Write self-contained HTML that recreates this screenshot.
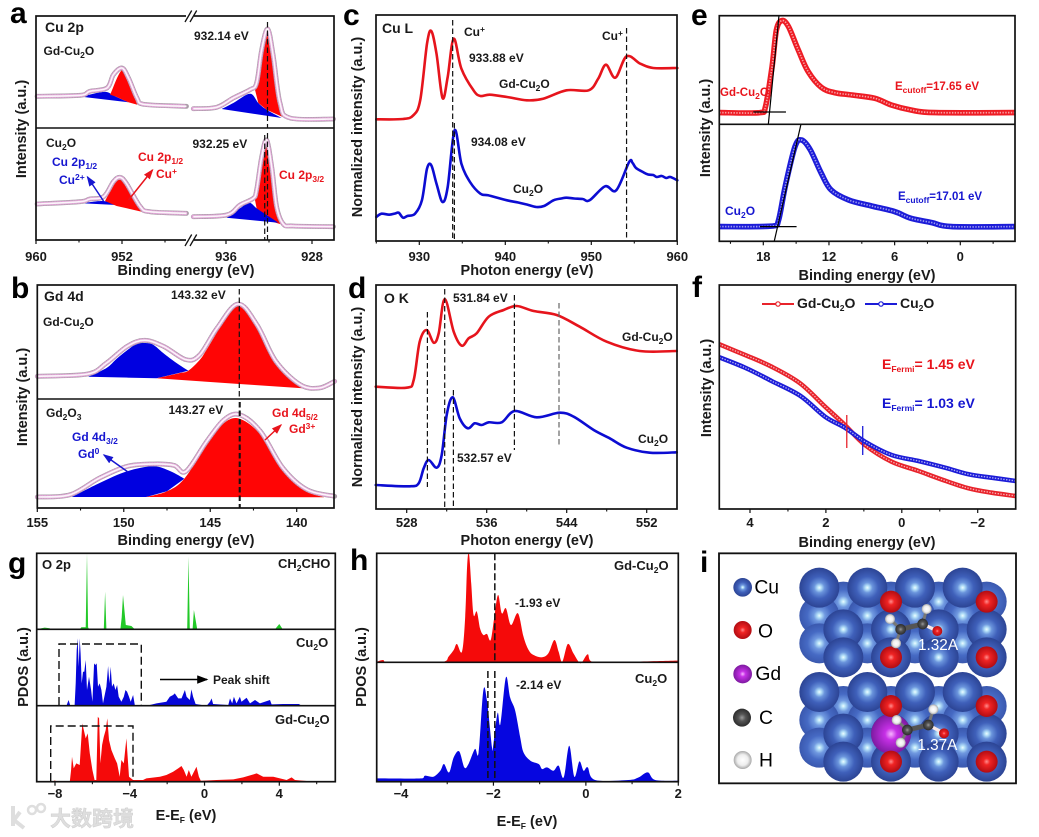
<!DOCTYPE html>
<html lang="en">
<head>
<meta charset="utf-8">
<title>XPS, XAS, UPS and PDOS figure</title>
<style>
html,body{margin:0;padding:0;background:#fff}
svg{display:block;filter:blur(.35px)}
text{font-family:"Liberation Sans","Noto Sans CJK SC",sans-serif;font-weight:bold;fill:#1a1a1a;font-size:12px}
.t{font-size:14.5px}
.h{font-size:14px}
.l{font-size:30px;fill:#000}
.r{fill:#e8141c}
.u{fill:#1616d0}
.s{font-size:8.5px}
.k{font-size:13px}
.e{font-size:11.5px}
.tick{font-size:13px}
.atom{font-weight:normal;font-size:58px;fill:#000}
.w{font-weight:normal;font-size:46px;fill:#fff}
.wm{font-size:21px;fill:#dedede;stroke:#cfcfcf;stroke-width:.5}
</style>
</head>
<body>
<svg id="figure" xmlns="http://www.w3.org/2000/svg" width="1039" height="837" viewBox="0 0 1039 837">
<defs>
<radialGradient id="cuF"><stop offset="0" stop-color="#eefcff"/><stop offset=".1" stop-color="#b4e0f8"/><stop offset=".26" stop-color="#6a94dc"/><stop offset=".55" stop-color="#3f60ba"/><stop offset="1" stop-color="#2c4494"/></radialGradient>
<radialGradient id="cuB"><stop offset="0" stop-color="#eefcff"/><stop offset=".1" stop-color="#b4e0f8"/><stop offset=".28" stop-color="#7099e0"/><stop offset=".6" stop-color="#466ac4"/><stop offset="1" stop-color="#3a58ae"/></radialGradient>
<radialGradient id="oG"><stop offset="0" stop-color="#ff8d8d"/><stop offset=".3" stop-color="#f02424"/><stop offset="1" stop-color="#b20c12"/></radialGradient>
<radialGradient id="gdG"><stop offset="0" stop-color="#f7b5ff"/><stop offset=".3" stop-color="#c630e6"/><stop offset="1" stop-color="#7d1aa0"/></radialGradient>
<radialGradient id="cG"><stop offset="0" stop-color="#9a9a9a"/><stop offset=".4" stop-color="#555"/><stop offset="1" stop-color="#2c2c2c"/></radialGradient>
<radialGradient id="hG"><stop offset="0" stop-color="#fff"/><stop offset=".6" stop-color="#eee"/><stop offset="1" stop-color="#a8a8a8"/></radialGradient>
<marker id="arK" markerWidth="8" markerHeight="8" refX="7" refY="3" orient="auto"><path d="M0 0L8 3L0 6z" fill="#000"/></marker>
<marker id="arR" markerWidth="7" markerHeight="7" refX="6" refY="2.5" orient="auto"><path d="M0 0L7 2.5L0 5z" fill="#e8141c"/></marker>
<marker id="arB" markerWidth="7" markerHeight="7" refX="6" refY="2.5" orient="auto"><path d="M0 0L7 2.5L0 5z" fill="#1616d0"/></marker>
</defs>

<g id="marks"></g>

<!-- panel letters -->
<text class="l" x="10" y="23">a</text>
<text class="l" x="11" y="298">b</text>
<text class="l" x="343" y="25">c</text>
<text class="l" x="348" y="298">d</text>
<text class="l" x="691" y="25">e</text>
<text class="l" x="692" y="297">f</text>
<text class="l" x="8" y="573">g</text>
<text class="l" x="350" y="570">h</text>
<text class="l" x="700" y="572">i</text>

<!-- axis titles -->
<text class="t" x="186" y="275" text-anchor="middle">Binding energy (eV)</text>
<text class="t" x="186" y="545" text-anchor="middle">Binding energy (eV)</text>
<text class="t" x="527" y="275" text-anchor="middle">Photon energy (eV)</text>
<text class="t" x="527" y="545" text-anchor="middle">Photon energy (eV)</text>
<text class="t" x="867" y="280" text-anchor="middle">Binding energy (eV)</text>
<text class="t" x="867" y="547" text-anchor="middle">Binding energy (eV)</text>
<text class="t" x="186" y="820" text-anchor="middle">E-E<tspan class="s" dy="3">F</tspan><tspan dy="-3"> (eV)</tspan></text>
<text class="t" x="527" y="826" text-anchor="middle">E-E<tspan class="s" dy="3">F</tspan><tspan dy="-3"> (eV)</tspan></text>
<text class="t" transform="translate(26 129) rotate(-90)" text-anchor="middle">Intensity (a.u.)</text>
<text class="t" transform="translate(27 397) rotate(-90)" text-anchor="middle">Intensity (a.u.)</text>
<text class="t" transform="translate(362 127) rotate(-90)" text-anchor="middle">Normalized intensity (a.u.)</text>
<text class="t" transform="translate(362 397) rotate(-90)" text-anchor="middle">Normalized intensity (a.u.)</text>
<text class="t" transform="translate(710 128) rotate(-90)" text-anchor="middle">Intensity (a.u.)</text>
<text class="t" transform="translate(711 388) rotate(-90)" text-anchor="middle">Intensity (a.u.)</text>
<text class="t" transform="translate(28 667) rotate(-90)" text-anchor="middle">PDOS (a.u.)</text>
<text class="t" transform="translate(366 667) rotate(-90)" text-anchor="middle">PDOS (a.u.)</text>

<!-- panel a annotations -->
<text class="h" x="45" y="32">Cu 2p</text>
<text x="43.5" y="55">Gd-Cu<tspan class="s" dy="3">2</tspan><tspan dy="-3">O</tspan></text>
<text x="194" y="40">932.14 eV</text>
<text x="46" y="147">Cu<tspan class="s" dy="3">2</tspan><tspan dy="-3">O</tspan></text>
<text x="192.5" y="148">932.25 eV</text>
<text class="u" x="52" y="166">Cu 2p<tspan class="s u" dy="3">1/2</tspan></text>
<text class="u" x="59" y="184">Cu<tspan class="s u" dy="-4">2+</tspan></text>
<text class="r" x="138" y="161">Cu 2p<tspan class="s r" dy="3">1/2</tspan></text>
<text class="r" x="156" y="178">Cu<tspan class="s r" dy="-4">+</tspan></text>
<text class="r" x="279" y="179">Cu 2p<tspan class="s r" dy="3">3/2</tspan></text>

<!-- panel b annotations -->
<text class="h" x="44" y="301">Gd 4d</text>
<text x="43" y="326">Gd-Cu<tspan class="s" dy="3">2</tspan><tspan dy="-3">O</tspan></text>
<text x="171" y="299">143.32 eV</text>
<text x="46" y="417">Gd<tspan class="s" dy="3">2</tspan><tspan dy="-3">O</tspan><tspan class="s" dy="3">3</tspan></text>
<text x="168.5" y="414">143.27 eV</text>
<text class="r" x="272" y="417">Gd 4d<tspan class="s r" dy="3">5/2</tspan></text>
<text class="r" x="289" y="433">Gd<tspan class="s r" dy="-4">3+</tspan></text>
<text class="u" x="72" y="441">Gd 4d<tspan class="s u" dy="3">3/2</tspan></text>
<text class="u" x="78" y="458">Gd<tspan class="s u" dy="-4">0</tspan></text>

<!-- panel c annotations -->
<text class="h" x="382" y="33">Cu L</text>
<text x="464" y="36">Cu<tspan class="s" dy="-4">+</tspan></text>
<text x="469" y="62">933.88 eV</text>
<text x="499" y="88">Gd-Cu<tspan class="s" dy="3">2</tspan><tspan dy="-3">O</tspan></text>
<text x="602" y="40">Cu<tspan class="s" dy="-4">+</tspan></text>
<text x="471" y="146">934.08 eV</text>
<text x="513" y="193">Cu<tspan class="s" dy="3">2</tspan><tspan dy="-3">O</tspan></text>

<!-- panel d annotations -->
<text class="h" x="384" y="303">O K</text>
<text x="453" y="302">531.84 eV</text>
<text x="622" y="341">Gd-Cu<tspan class="s" dy="3">2</tspan><tspan dy="-3">O</tspan></text>
<text x="638" y="443">Cu<tspan class="s" dy="3">2</tspan><tspan dy="-3">O</tspan></text>
<text x="457" y="462">532.57 eV</text>

<!-- panel e annotations -->
<text class="r e" x="720" y="96">Gd-Cu<tspan class="s r" dy="3">2</tspan><tspan dy="-3">O</tspan></text>
<text class="r e" x="895" y="90">E<tspan class="s r" dy="3">cutoff</tspan><tspan dy="-3">=17.65 eV</tspan></text>
<text class="u" x="725" y="215">Cu<tspan class="s u" dy="3">2</tspan><tspan dy="-3">O</tspan></text>
<text class="u e" x="898" y="200">E<tspan class="s u" dy="3">cutoff</tspan><tspan dy="-3">=17.01 eV</tspan></text>

<!-- panel f annotations -->
<text class="h" x="797" y="308">Gd-Cu<tspan class="s" dy="3">2</tspan><tspan dy="-3">O</tspan></text>
<text class="h" x="900" y="308">Cu<tspan class="s" dy="3">2</tspan><tspan dy="-3">O</tspan></text>
<text class="h r" x="882" y="369">E<tspan class="s r" dy="3">Fermi</tspan><tspan dy="-3">= 1.45 eV</tspan></text>
<text class="h u" x="882" y="408">E<tspan class="s u" dy="3">Fermi</tspan><tspan dy="-3">= 1.03 eV</tspan></text>

<!-- panel g annotations -->
<text class="k" x="42" y="569">O 2p</text>
<text class="k" x="278" y="568">CH<tspan class="s" dy="3">2</tspan><tspan dy="-3">CHO</tspan></text>
<text class="k" x="296" y="647">Cu<tspan class="s" dy="3">2</tspan><tspan dy="-3">O</tspan></text>
<text x="213" y="684">Peak shift</text>
<text class="k" x="275" y="724">Gd-Cu<tspan class="s" dy="3">2</tspan><tspan dy="-3">O</tspan></text>

<!-- panel h annotations -->
<text class="k" x="614" y="570">Gd-Cu<tspan class="s" dy="3">2</tspan><tspan dy="-3">O</tspan></text>
<text x="515" y="607">-1.93 eV</text>
<text class="k" x="635" y="683">Cu<tspan class="s" dy="3">2</tspan><tspan dy="-3">O</tspan></text>
<text x="516" y="689">-2.14 eV</text>

<!-- panel i -->
<g id="panelI" transform="translate(690 550) scale(.33333)">
<rect x="87" y="10" width="891" height="690" fill="#fff" stroke="#111" stroke-width="5.5"/>
<g id="atoms"></g>
<text class="atom" x="193" y="130">Cu</text>
<text class="atom" x="204" y="262">O</text>
<text class="atom" x="196" y="390">Gd</text>
<text class="atom" x="207" y="522">C</text>
<text class="atom" x="207" y="650">H</text>
<text class="w" x="684" y="300">1.32A</text>
<text class="w" x="682" y="600">1.37A</text>
</g>

<!-- watermark -->
<g>
<path d="M13 806 L13 826 M20 812 L14 820 L24 828" fill="none" stroke="#dedede" stroke-width="4"/>
<circle cx="32" cy="810" r="4" fill="none" stroke="#dedede" stroke-width="2.5"/>
<circle cx="41" cy="808" r="4" fill="none" stroke="#dedede" stroke-width="2.5"/>
<text class="wm" x="50" y="826">大数跨境</text>
</g>
</svg>

<script>
// ---------- panel a data (eV, intensity) ----------
const aTopLeftE=[959.9,955.9,955,953.4,952.8,952,951.4,950.6,950,946];
const aTopLeftI=[31.7,32.7,36.7,40,53.3,60,50,30,23.7,21.7];
const aTopLeftBlueE=[955.75,954.36,953.43,952.65,951.41];
const aTopLeftBlueI=[31.3,35,36,31.7,25.7];
const aTopLeftRedE=[953.1,952.03,951.41,950.57,951.41,952.65];
const aTopLeftRedI=[33.3,57.7,45,23.3,25.7,31.7];
const aTopRightE=[939.04,936.87,935.32,933.77,933.15,932.68,932.12,931.6,930.98,930.05,926];
const aTopRightI=[19.3,20.7,30,38.3,45,78.3,99,71.7,25,10,9];
const aTopRightBlueE=[936.4,935.32,933.77,933,932.22,930.82];
const aTopRightBlueI=[19,25,34.3,25,18.3,10];
const aTopRightRedE=[933.3,932.68,932.12,931.6,931.13,930.51,932.22,933];
const aTopRightRedI=[38.3,78.3,95,71.7,25,10,18.3,25];
const aBotLeftE=[959.9,955.9,955,953.7,952.8,952.2,951.6,950.3,949.4,946];
const aBotLeftI=[36,38.3,41,43.3,58.3,62.7,56.7,33.3,28.3,26.7];
const aBotLeftBlueE=[955.75,953.74,952.5];
const aBotLeftBlueI=[36.7,39,35];
const aBotLeftRedE=[953.58,952.34,951.41,950.17,952.5];
const aBotLeftRedI=[39,60,50,28.3,34];
const aBotRightE=[939.04,935.94,934.7,933.46,933.15,932.68,932.22,931.75,931.29,930.67,929.74,926];
const aBotRightI=[23.3,25,35,41.7,50,83.3,100,73.3,33.3,16,14,13.3];
const aBotRightBlueE=[935.94,934.7,933.83,933.15,932.22,931.13];
const aBotRightBlueI=[22.3,31.7,37.3,31.7,25,17.3];
const aBotRightRedE=[933.3,932.68,932.22,931.75,931.29,930.67,932.22,933.15];
const aBotRightRedI=[40,83.3,96,70,33.3,15,20,31.7];
const aMajorTicks=[960,952,936,928];
const aMinorTicks=[956,948,932];
const aTickLabels=["960","952","936","928"];

// ---------- panel b data ----------
const bTopE=[155,152.1,151,149.8,148.8,147.7,146.4,145.6,144.6,143.4,142.3,141.2,139.8,138.7,137.8];
const bTopI=[22.7,25,36,52.7,58.7,52.7,39.3,44.3,71,95,74.3,37.7,14.3,11,17.7];
const bTopBlueE=[152.05,151,150.41,149.84,149.26,148.78,148.3,147.72,146.95,146.27,148.1];
const bTopBlueI=[22.3,31,40.3,48.3,55,56,54.3,46,36,28.3,20.7];
const bTopRedE=[148.1,146.75,146.27,145.6,145.21,144.63,143.96,143.32,142.8,142.32,141.74,141.17,140.2,139.24,143.32];
const bTopRedI=[20.7,26,28.3,39.3,49.3,66,86,92.7,84.3,72.7,54.3,37.7,19.3,10.3,15];
const bBotE=[155,153.1,151.4,149.8,148.3,147.1,146.4,145.2,144.2,143.3,142.1,140.8,139.4,137.8];
const bBotI=[11,13.3,30,41.7,44,42.7,36.7,66.7,88.3,93.3,76.7,40,18.3,11.7];
const bBotBlueE=[153,151.4,149.8,148.3,147.3,146.5,147.5,148.7];
const bBotBlueI=[11,25,36.7,41.7,36.7,29.3,16.7,11];
const bBotRedE=[148.7,147.5,146.5,145.2,144.2,143.3,142.1,140.8,139.4,138.4];
const bBotRedI=[11,16.7,29.3,63.3,85,89.3,73.3,36.7,16.7,10.7];
const bMajorTicks=[155,150,145,140];
const bMinorTicks=[152.5,147.5,142.5];
const bTickLabels=["155","150","145","140"];

// ---------- panel c data ----------
const cRedE=[925,928.1,929.3,930.1,930.9,931.4,932,932.7,933.3,934,934.9,936.3,937.1,938.2,940.2,942.5,944.4,947.1,949.7,950.8,951.7,952.8,954.1,955.7,957.2,960];
const cRedI=[121.7,122,125.7,140.7,197.3,210,187.3,143,164,202.3,172.3,150.7,145,146.3,144,140.7,142.3,150.7,150.7,162.3,176.3,163.3,184.7,177.3,173,173];
const cBlueE=[925,925.6,926.5,927.2,927.6,928.1,928.6,929.5,930.3,930.9,931.4,932,932.7,933.3,934.1,934.9,935.9,937.1,938,940.2,941.5,942.5,943.6,944.5,945.6,946.5,947.1,948,949,949.8,951.6,952.9,954.4,954.8,955.2,956,956.6,957.2,957.6,958.2,958.7,959.2,960];
const cBlueI=[24,27.3,26.3,27.5,28.3,23.3,25,27.3,40.7,72.3,75.7,57.3,39,54,110.7,77.3,59,47.3,45.7,40.7,38.5,36.5,34,35,40.7,42.5,43.3,42.5,42,40.7,54.7,50.7,79,78,73,69,66.5,66,64,65,63,64,60.7];
const cMajorTicks=[930,940,950,960];
const cMinorTicks=[925,935,945,955];
const cTickLabels=["930","940","950","960"];

// ---------- panel d data ----------
const dRedE=[524.9,528,528.7,529.3,530,530.7,531.2,531.8,532.7,533.5,534.2,535,536.2,537.7,539,540.7,543,545.3,548,551.3,555];
const dRedI=[122.3,121.3,129,167.3,179,166.3,175.7,210,177.3,163.3,170.7,175.7,192.3,199,203,198,194,182.3,167.3,158,158];
const dBlueE=[524.9,528.3,529.2,529.7,530.2,531,531.5,532,532.6,533.3,534.1,534.8,535.5,536.2,537.5,538.8,541,543.3,544.7,546.7,548.3,550,552.3,555];
const dBlueI=[24,22.7,25.7,40.7,49,41.3,54,94,111.7,90.7,80.7,85.7,84,86.7,86.7,98,91.7,96.3,92.3,79,70.7,61.3,56.3,56.7];
const dMajorTicks=[528,536,544,552];
const dMinorTicks=[532,540,548];
const dTickLabels=["528","536","544","552"];

// ---------- panel e data ----------
const eRedE=[22,18.3,17.8,17.2,16.8,16.3,15.7,14.8,13.9,12.7,11.5,9.9,7.8,6.3,4.5,2.3,-5];
const eRedI=[11.7,11.7,17.7,57.7,94.3,103.7,97.7,74.3,52.7,37,31.7,29.3,26,19.3,14.3,11.7,11.7];
const eBlueE=[22,17.1,16.6,16,15.1,14.5,13.7,12.7,11.8,10.2,8.1,6,4.5,2.6,0.8,-5];
const eBlueI=[14.7,15.3,21.3,54.7,94.7,101.3,91.3,68,51.3,41.3,35.3,29.7,23,18.7,14.7,14.7];
const eMajorTicks=[18,12,6,0];
const eMinorTicks=[21,15,9,3,-3];
const eTickLabels=["18","12","6","0"];

// ---------- panel f data ----------
const fEnergy=[4.81,4.13,3.43,2.68,2.02,1.5,0.97,0.27,-0.44,-1.14,-1.76,-2.37,-3];
const fRedI=[164.7,154,142.3,125.7,102.3,84,64,47.3,38,28.3,20.7,16.3,13];
const fBlueI=[151.7,141.3,128,113.3,92.3,81.3,67.3,54,48,41.3,34.7,31.3,28];
const fFermi=[1.45,1.03];
const fMajorTicks=[4,2,0,-2];
const fMinorTicks=[3,1,-1];
const fTickLabels=["4","2","0","\u22122"];

// ---------- panel g data ----------
const gGreenE=[-9,-8.55,-8.29,-8.2,-6.68,-6.59,-6.36,-6.29,-6.23,-6.18,-5.39,-5.32,-5.25,-4.5,-4.43,-4.36,-4.21,-3.91,-3.73,-0.93,-0.86,-0.79,-0.64,-0.57,-0.46,-0.39,3.77,4,4.18,7];
const gGreenD=[0,1.7,1,0,0,2,2,76,2,0,0,37.7,0,0,12,34.3,4.3,3.3,0,0,72.7,0,0,19.3,7.7,0,0,5.3,0,0];
const gBlueE=[-7.39,-7.27,-7.18,-6.95,-6.89,-6.84,-6.79,-6.73,-6.68,-6.63,-6.57,-6.5,-6.43,-6.36,-6.29,-6.18,-6.07,-6,-5.91,-5.84,-5.77,-5.7,-5.61,-5.52,-5.43,-5.25,-5.16,-5.09,-5.02,-4.95,-4.86,-4.77,-4.68,-4.59,-4.45,-4.32,-4.23,-4.14,-4.04,-3.95,-3.82,-3.73,-2.93,-2.57,-2.04,-1.86,-1.68,-1.59,-1.41,-1.23,-1.05,-0.96,-0.79,-0.7,-0.61,-0.48,0.11,0.29,0.38,0.46,1.27,1.36,1.48,1.57,1.71,1.89,1.98,2.25,2.43,2.7,2.96,3.5,3.59,4.21,4.93,5.05,5.2,7];
const gBlueD=[0,5.7,0,0,22.3,55.7,67.3,39,67.3,52.3,22.3,34,34,45.7,15.7,29,15.7,4,42.3,40.7,42.3,19,22.3,15.7,2.3,19,39.7,22.3,39,19,22.3,15.7,20.7,9,4,9,15.7,14,9,4,10.7,0.7,0.7,2.3,4,9,10.7,12.3,7.3,7.3,15.7,9,5.7,16.3,9,1.7,0,4,7.3,1.7,0.7,7.3,2.3,9,2.3,9,4,8,2.3,5.7,2.3,5.7,1.3,1.7,1.7,1.7,0,0];
const gRedE=[-8.02,-7.93,-7.21,-7.14,-7.09,-7,-6.86,-6.68,-6.54,-6.46,-6.36,-6.25,-6.14,-6,-5.88,-5.79,-5.71,-5.64,-5.57,-5.48,-5.39,-5.29,-5.2,-5.11,-4.98,-4.8,-4.68,-4.54,-4.45,-4.32,-4.18,-4.04,-3.82,-3.29,-3.11,-2.39,-2.04,-1.68,-1.41,-1.23,-1.11,-0.96,-0.84,-0.7,-0.43,-0.3,-0.2,0.64,1.54,2.07,2.79,3.14,3.68,4.39,4.66,4.84,5.46,7];
const gRedD=[1.7,0,0,11.7,25,13.3,18.3,16.7,58.3,51.7,43.3,48.3,28.3,11.7,1.7,1.7,65,63.3,18.3,36.7,45,51.7,63.3,41.7,31.7,23.3,18.3,5,21.7,18.3,43.3,5,1.7,1.7,3.3,5,6.7,10,13.3,15.7,11.7,5,11.7,5,15,5,1,1.7,2.3,4.3,8.3,5,5,1.7,4.3,1.7,0.7,0];
const gMajorTicks=[-8,-4,0,4];
const gMinorTicks=[-6,-2,2,6];
const gTickLabels=["\u22128","\u22124","0","4"];

// ---------- panel h data ----------
const hRedE=[-4.52,-4.39,-4.34,-3.08,-2.97,-2.86,-2.79,-2.68,-2.61,-2.57,-2.53,-2.48,-2.43,-2.36,-2.29,-2.22,-2.14,-2.06,-1.98,-1.9,-1.82,-1.73,-1.62,-1.47,-1.35,-1.24,-1.13,-0.95,-0.81,-0.68,-0.59,-0.51,-0.39,-0.27,-0.16,-0.09,0.04,0.13,2];
const hRedD=[0.7,2.3,0.7,0.7,5.7,12.3,18.3,10.7,45.7,95.7,109,79,47.3,50.7,34,27.3,28.3,22.3,45.7,67.3,49,54,37.3,49,25.7,12.3,7.3,5,9,22.3,10.7,0.7,18.3,9,0.7,-0.3,8,0.7,1.7];
const hBlueE=[-4.52,-3.55,-3.48,-3.3,-3.15,-3.07,-2.96,-2.86,-2.74,-2.63,-2.54,-2.4,-2.32,-2.22,-2.14,-2.03,-2,-1.91,-1.85,-1.73,-1.64,-1.53,-1.42,-1.35,-1.2,-1.02,-0.95,-0.84,-0.7,-0.59,-0.48,-0.36,-0.25,-0.14,-0.05,0.04,0.2,0.92,1.14,1.34,1.5,2];
const hBlueD=[3.3,3.3,6,5,11,17.7,9.3,24.3,30.3,14.3,17.7,32.7,29.3,91,81,34.3,37.7,68.7,57.7,104.3,84.3,71,44.3,29.3,21,17.7,12.7,14.3,11,16,4.3,36,5,20.3,11,14.3,1.7,1.7,4.3,9.3,1.7,1];
const hMajorTicks=[-4,-2,0,2];
const hMinorTicks=[-3,-1,1];
const hTickLabels=["\u22124","\u22122","0","2"];

// ---------- panel i model ----------
const cuBackRowY=[155];
const cuMidRowsY=[197,280];
const cuFrontEvenY=[113];
const cuFrontOddY=[238,322];
const colsEven=[388,532,675,818];
const colsOdd=[460,603,746,890];

// ---------- helpers ----------
const NS='http://www.w3.org/2000/svg';
const root=document.getElementById('marks');
const RED='#ff0505',BLUE='#0000e0',LRED='#e6141c',LBLUE='#0c0cd2';

function linear(d0,d1,r0,r1){return function(v){return r0+(v-d0)*(r1-r0)/(d1-d0);};}
function svgEl(tag,attrs,parent){
  var e=document.createElementNS(NS,tag);
  for(var k in attrs){e.setAttribute(k,attrs[k]);}
  (parent||root).appendChild(e);
  return e;
}
function toPts(xs,ys,sx,sy){return xs.map(function(x,i){return [sx(x),sy(ys[i])];});}
function linePath(p){return p.map(function(q,i){return (i?'L':'M')+q[0].toFixed(1)+' '+q[1].toFixed(1);}).join('');}
function smoothPath(p){
  var d='M'+p[0][0].toFixed(1)+' '+p[0][1].toFixed(1);
  for(var i=0;i<p.length-1;i++){
    var a=p[Math.max(i-1,0)],b=p[i],c=p[i+1],e=p[Math.min(i+2,p.length-1)];
    var c1x=b[0]+(c[0]-a[0])/6,c1y=b[1]+(c[1]-a[1])/6,c2x=c[0]-(e[0]-b[0])/6,c2y=c[1]-(e[1]-b[1])/6;
    if(c1x>c[0])c1x=c[0]; if(c2x<b[0])c2x=b[0];
    d+='C'+c1x.toFixed(1)+' '+c1y.toFixed(1)+' '+c2x.toFixed(1)+' '+c2y.toFixed(1)+' '+c[0].toFixed(1)+' '+c[1].toFixed(1);
  }
  return d;
}
function fillShape(name,xs,ys,sx,sy,color,closeBase){
  var p=toPts(xs,ys,sx,sy);
  var d;
  if(closeBase){
    d=linePath(p)+'L'+p[p.length-1][0].toFixed(1)+' '+sy(0).toFixed(1)+'L'+p[0][0].toFixed(1)+' '+sy(0).toFixed(1);
  }else{
    // smooth the left-to-right upper edge, then return along straight baseline segments
    var n=1;
    while(n<p.length&&p[n][0]>p[n-1][0]){n++;}
    d=smoothPath(p.slice(0,n));
    p.slice(n).forEach(function(q){d+='L'+q[0].toFixed(1)+' '+q[1].toFixed(1);});
  }
  var s=svgEl('path',{d:d+'Z',fill:color,stroke:'none'});
  
  
}
function fitCurve(name,xs,ys,sx,sy){
  var d=smoothPath(toPts(xs,ys,sx,sy));
  var a=svgEl('path',{d:d,fill:'none',stroke:'#aa9ca8','stroke-width':4.8,'stroke-linecap':'round'});
  
  
  var b=svgEl('path',{d:d,fill:'none',stroke:'#e2a6d8','stroke-width':3.8,'stroke-linecap':'round','stroke-dasharray':'0 2.6'});
  
  
  var c=svgEl('path',{d:d,fill:'none',stroke:'#fbf6fa','stroke-width':1.6});
  
  
}
function solidCurve(name,xs,ys,sx,sy,color,w){
  var s=svgEl('path',{d:smoothPath(toPts(xs,ys,sx,sy)),fill:'none',stroke:color,'stroke-width':w,'stroke-linejoin':'round','stroke-linecap':'round'});
  
  
}
function ringCurve(name,xs,ys,sx,sy,color,light,w){
  var d=smoothPath(toPts(xs,ys,sx,sy));
  var a=svgEl('path',{d:d,fill:'none',stroke:color,'stroke-width':w,'stroke-linejoin':'round'});
  
  
  var b=svgEl('path',{d:d,fill:'none',stroke:light,'stroke-width':w*0.3,'stroke-dasharray':'1.4 1.4'});
  
  
}
function frame(name,x0,y0,x1,y1){
  var r=svgEl('rect',{x:x0,y:y0,width:x1-x0,height:y1-y0,fill:'none',stroke:'#111','stroke-width':1.7});
  
  
}
function hline(name,x0,x1,y){
  var l=svgEl('line',{x1:x0,x2:x1,y1:y,y2:y,stroke:'#111','stroke-width':1.6});
  
  
}
function refLine(name,x,y0,y1,color,w,dash){
  var l=svgEl('line',{x1:x,x2:x,y1:y0,y2:y1,stroke:color||'#111','stroke-width':w||1.2,'stroke-dasharray':dash||'5.5 3'});
  
  
}
function seg(name,x0,y0,x1,y1,color,w,extra){
  var l=svgEl('line',{x1:x0,y1:y0,x2:x1,y2:y1,stroke:color,'stroke-width':w});
  if(extra){l.setAttribute('marker-end',extra);}
  
  
}
function axisTicks(prefix,sx,yBase,majors,minors,labels,labelY){
  majors.forEach(function(v,i){
    var t=svgEl('line',{x1:sx(v),x2:sx(v),y1:yBase,y2:yBase+4,stroke:'#111','stroke-width':1.2});
    
    
    var lab=svgEl('text',{x:sx(v),y:labelY,'text-anchor':'middle','class':'tick'});
    lab.textContent=labels[i];
    
    
  });
  minors.forEach(function(v){
    var t=svgEl('line',{x1:sx(v),x2:sx(v),y1:yBase,y2:yBase+2.5,stroke:'#111','stroke-width':1.1});
    
    
  });
}

// ---------- panel a ----------
(function(){
  var xL=linear(960,952,36,122),xR=linear(936,928,226,312);
  var yT=linear(0,112,128,16),yB=linear(0,112,240,128);
  fillShape('a-top-left-blue-peak',aTopLeftBlueE,aTopLeftBlueI,xL,yT,BLUE);
  fillShape('a-top-left-red-peak',aTopLeftRedE,aTopLeftRedI,xL,yT,RED);
  fillShape('a-top-right-red-peak',aTopRightRedE,aTopRightRedI,xR,yT,RED);
  fillShape('a-top-right-blue-peak',aTopRightBlueE,aTopRightBlueI,xR,yT,BLUE);
  fillShape('a-bottom-left-blue-peak',aBotLeftBlueE,aBotLeftBlueI,xL,yB,BLUE);
  fillShape('a-bottom-left-red-peak',aBotLeftRedE,aBotLeftRedI,xL,yB,RED);
  fillShape('a-bottom-right-red-peak',aBotRightRedE,aBotRightRedI,xR,yB,RED);
  fillShape('a-bottom-right-blue-peak',aBotRightBlueE,aBotRightBlueI,xR,yB,BLUE);
  fitCurve('a-top-left-curve',aTopLeftE,aTopLeftI,xL,yT);
  fitCurve('a-top-right-curve',aTopRightE,aTopRightI,xR,yT);
  fitCurve('a-bottom-left-curve',aBotLeftE,aBotLeftI,xL,yB);
  fitCurve('a-bottom-right-curve',aBotRightE,aBotRightI,xR,yB);
  refLine('a-ref-932-14',xR(932.14),22,128);
  refLine('a-ref-932-14-lower',xR(932.14),133,240);
  refLine('a-ref-932-25-lower',xR(932.25)-1.6,135,240);
  seg('a-arrow-cu2plus',103.5,201,87.5,177,'#1616d0',1.5,'url(#arB)');
  seg('a-arrow-cu-plus',128.5,200,152.5,170,'#e8141c',1.5,'url(#arR)');
  frame('a-frame',36,16,334,240);
  hline('a-divider',36,334,128);
  var g1=svgEl('rect',{x:186,y:12,width:8,height:8,fill:'#fff'});
  
  
  var g2=svgEl('rect',{x:186,y:236,width:8,height:8,fill:'#fff'});
  
  
  [0,224].forEach(function(dy){
    seg('a-axis-break-mark',185,22+dy,191.7,10.5+dy,'#111',1.3);
    seg('a-axis-break-mark',190,22+dy,196.7,10.5+dy,'#111',1.3);
  });
  aMajorTicks.forEach(function(v,i){
    var sx=i<2?xL:xR;
    var t=svgEl('line',{x1:sx(v),x2:sx(v),y1:240,y2:244,stroke:'#111','stroke-width':1.2});
    
    
    var lab=svgEl('text',{x:sx(v),y:261,'text-anchor':'middle','class':'tick'});
    lab.textContent=aTickLabels[i];
    
    
  });
  aMinorTicks.forEach(function(v){
    var sx=v>940?xL:xR;
    var t=svgEl('line',{x1:sx(v),x2:sx(v),y1:240,y2:242.5,stroke:'#111','stroke-width':1.1});
    
    
  });
})();

// ---------- panel b ----------
(function(){
  var x=linear(155,140,37.3,296.7);
  var yT=linear(0,114,399,285),yB=linear(0,109,508,399);
  fillShape('b-top-blue-peak',bTopBlueE,bTopBlueI,x,yT,BLUE);
  fillShape('b-top-red-peak',bTopRedE,bTopRedI,x,yT,RED);
  fillShape('b-bottom-blue-peak',bBotBlueE,bBotBlueI,x,yB,BLUE);
  fillShape('b-bottom-red-peak',bBotRedE,bBotRedI,x,yB,RED);
  fitCurve('b-top-curve',bTopE,bTopI,x,yT);
  fitCurve('b-bottom-curve',bBotE,bBotI,x,yB);
  refLine('b-ref-143-32',x(143.32),289,397);
  refLine('b-ref-143-32-lower',x(143.32),402,508);
  refLine('b-ref-143-27-lower',x(143.27),402,508);
  seg('b-arrow-gd0',128,472,104,455,'#1616d0',1.5,'url(#arB)');
  seg('b-arrow-gd3plus',265,440,281,425,'#e8141c',1.5,'url(#arR)');
  frame('b-frame',37.3,285,334,508);
  hline('b-divider',37.3,334,399);
  axisTicks('b',x,508,bMajorTicks,bMinorTicks,bTickLabels,527);
})();

// ---------- panel c ----------
(function(){
  var x=linear(930,960,419.3,677.3);
  var y=linear(0,226,241,15);
  solidCurve('c-gd-cu2o-line',cRedE,cRedI,x,y,LRED,2.6);
  solidCurve('c-cu2o-line',cBlueE,cBlueI,x,y,LBLUE,2.6);
  refLine('c-ref-933-88',x(933.88),20,241);
  refLine('c-ref-934-08',x(934.08),123,241);
  refLine('c-ref-954',x(954.1),28,241);
  frame('c-frame',376,15,677,241);
  axisTicks('c',x,241,cMajorTicks,cMinorTicks,cTickLabels,261);
})();

// ---------- panel d ----------
(function(){
  var x=linear(528,552,406.7,646.7);
  var y=linear(0,224,509,285);
  solidCurve('d-gd-cu2o-line',dRedE,dRedI,x,y,LRED,2.6);
  solidCurve('d-cu2o-line',dBlueE,dBlueI,x,y,LBLUE,2.6);
  refLine('d-ref-530',x(530.07),312,487);
  refLine('d-ref-531-84',x(531.8),289,509);
  refLine('d-ref-532-57',x(532.67),390,509);
  refLine('d-ref-538-8',x(538.77),295,450);
  refLine('d-ref-543-2',x(543.23),303,445,'#666');
  frame('d-frame',376,285,677,509);
  axisTicks('d',x,509,dMajorTicks,dMinorTicks,dTickLabels,527);
})();

// ---------- panel e ----------
(function(){
  var x=linear(18,0,763.3,960.3);
  var yT=linear(0,108.6,124.3,15.7),yB=linear(0,117,241.3,124.3);
  ringCurve('e-gd-cu2o-curve',eRedE,eRedI,x,yT,'#ee1c24','#f7a0a4',5.6);
  ringCurve('e-cu2o-curve',eBlueE,eBlueI,x,yB,'#1c1cd8','#9a9af0',5.6);
  seg('e-top-edge-fit',x(16.57),yT(108.6),x(17.54),yT(0),'#000',1.2);
  seg('e-top-base-fit',x(18.91),yT(12.3),x(15.93),yT(12.3),'#000',1.2);
  seg('e-bottom-edge-fit',x(14.56),yB(117),x(17),yB(0),'#000',1.2);
  seg('e-bottom-base-fit',x(18.3),yB(14.7),x(14.96),yB(14.7),'#000',1.2);
  frame('e-frame',719.3,15.7,1015,241.3);
  hline('e-divider',719.3,1015,124.3);
  axisTicks('e',x,241.3,eMajorTicks,eMinorTicks,eTickLabels,261);
})();

// ---------- panel f ----------
(function(){
  var x=linear(4,-2,750,977.7);
  var y=linear(0,224,509,285);
  ringCurve('f-gd-cu2o-curve',fEnergy,fRedI,x,y,'#e8232b','#f8b0b4',4.6);
  ringCurve('f-cu2o-curve',fEnergy,fBlueI,x,y,'#1c1cd8','#b0b0f4',4.6);
  seg('f-fermi-marker-gd-cu2o',x(fFermi[0]),415,x(fFermi[0]),448,'#e8232b',1.3);
  seg('f-fermi-marker-cu2o',x(fFermi[1]),426,x(fFermi[1]),455,'#1c1cd8',1.3);
  seg('f-legend-line-gd-cu2o',762,304,794,304,'#e8232b',2);
  seg('f-legend-line-cu2o',865,304,897,304,'#1c1cd8',2);
  var m1=svgEl('circle',{cx:778,cy:304,r:2.2,fill:'#fff',stroke:'#e8232b','stroke-width':1.2});
  
  
  var m2=svgEl('circle',{cx:881,cy:304,r:2.2,fill:'#fff',stroke:'#1c1cd8','stroke-width':1.2});
  
  
  frame('f-frame',719.3,285,1015.7,509);
  axisTicks('f',x,509,fMajorTicks,fMinorTicks,fTickLabels,527);
})();

// ---------- panel g ----------
(function(){
  var x=linear(-8,4,55,279.3);
  var yG=linear(0,76,629.3,553.3),yB=linear(0,76.4,705.7,629.3),yR=linear(0,76,781.7,705.7);
  fillShape('g-ch2cho-pdos',gGreenE,gGreenD,x,yG,'#22c928',true);
  fillShape('g-cu2o-pdos',gBlueE,gBlueD,x,yB,'#0606d8',true);
  fillShape('g-gd-cu2o-pdos',gRedE,gRedD,x,yR,'#f50a0a',true);
  var b1=svgEl('path',{d:'M59 705V644H141.300V705',fill:'none',stroke:'#111','stroke-width':1.4,'stroke-dasharray':'8 4'});
  
  
  var b2=svgEl('path',{d:'M50.700 781V726H133V781',fill:'none',stroke:'#111','stroke-width':1.4,'stroke-dasharray':'8 4'});
  
  
  seg('g-peak-shift-arrow',160,679.500,207,679.500,'#000',1.4,'url(#arK)');
  frame('g-frame',36.7,553.3,335.3,781.7);
  hline('g-divider-upper',36.7,335.3,629.3);
  hline('g-divider-lower',36.7,335.3,705.7);
  axisTicks('g',x,781.7,gMajorTicks,gMinorTicks,gTickLabels,798);
})();

// ---------- panel h ----------
(function(){
  var x=linear(-4,2,401,678.3);
  var yT=linear(0,109,662.3,553.3),yB=linear(0,119.4,781.7,662.3);
  var pr=toPts(hRedE,hRedD,x,yT);
  var a=svgEl('path',{d:smoothPath(pr)+'L'+pr[pr.length-1][0]+' '+yT(0)+'L'+pr[0][0]+' '+yT(0)+'Z',fill:'#f50a0a'});
  
  
  var pb=toPts(hBlueE,hBlueD,x,yB);
  var b=svgEl('path',{d:smoothPath(pb)+'L'+pb[pb.length-1][0]+' '+yB(0)+'L'+pb[0][0]+' '+yB(0)+'Z',fill:'#0606e0'});
  
  
  refLine('h-ref-minus-1-93',x(-1.97),553.3,662,'#111',1.5,'7 3');
  refLine('h-ref-minus-2-14',x(-2.12),671,781.7,'#111',1.5,'7 3');
  refLine('h-ref-minus-1-93-lower',x(-1.97),671,781.7,'#111',1.5,'7 3');
  frame('h-frame',376.7,553.3,678.3,781.7);
  hline('h-divider',376.7,678.3,662.3);
  axisTicks('h',x,781.7,hMajorTicks,hMinorTicks,hTickLabels,798);
})();

// ---------- panel i ----------
(function(){
  var host=document.getElementById('atoms');
  function atom(name,cx,cy,r,fill){
    var c=svgEl('circle',{cx:cx,cy:cy,r:r,fill:fill},host);
    
    
  }
  function bond(name,x1,y1,x2,y2,color,w){
    var l=svgEl('line',{x1:x1,y1:y1,x2:x2,y2:y2,stroke:color,'stroke-width':w},host);
    
    
  }
  function slab(dy,withGd){
    cuBackRowY.forEach(function(y){colsOdd.forEach(function(x){atom('cu-atom-back',x,y+dy,60,'url(#cuB)');});});
    cuMidRowsY.forEach(function(y){colsEven.forEach(function(x){atom('cu-atom-mid',x,y+dy,60,'url(#cuB)');});});
    cuFrontEvenY.forEach(function(y){colsEven.forEach(function(x){atom('cu-atom-front',x,y+dy,60,'url(#cuF)');});});
    cuFrontOddY.forEach(function(y){colsOdd.forEach(function(x){atom('cu-atom-front',x,y+dy,60,'url(#cuF)');});});
    if(withGd){atom('gd-atom',603,239+dy,60,'url(#gdG)');}
    [[603,155],[890,155],[603,322],[890,322]].forEach(function(p){atom('o-atom-lattice',p[0],p[1]+dy,33,'url(#oG)');});
  }
  slab(0,false);
  slab(313,true);
  // CH2CHO on Cu2O
  bond('c-c-bond',632,238,698,222,'#555',15);
  bond('c-o-bond',698,222,742,243,'#f8e8e8',10);
  bond('c-h-bond',632,238,600,207,'#777',9);
  bond('c-h-bond',632,238,618,280,'#777',9);
  bond('c-h-bond',698,222,710,177,'#777',9);
  atom('c-atom',632,238,16,'url(#cG)');
  atom('c-atom',698,222,16,'url(#cG)');
  atom('o-atom-adsorbate',742,243,15,'url(#oG)');
  atom('h-atom',600,207,15,'url(#hG)');
  atom('h-atom',618,280,15,'url(#hG)');
  atom('h-atom',710,177,15,'url(#hG)');
  // CH2CHO on Gd-Cu2O
  bond('c-c-bond',652,540,715,525,'#555',15);
  bond('c-o-bond',715,525,762,550,'#f8e8e8',10);
  bond('c-h-bond',652,540,620,510,'#777',9);
  bond('c-h-bond',652,540,632,578,'#777',9);
  bond('c-h-bond',715,525,730,478,'#777',9);
  atom('c-atom',652,540,16,'url(#cG)');
  atom('c-atom',715,525,16,'url(#cG)');
  atom('o-atom-adsorbate',762,550,15,'url(#oG)');
  atom('h-atom',620,510,15,'url(#hG)');
  atom('h-atom',632,578,15,'url(#hG)');
  atom('h-atom',730,478,15,'url(#hG)');
  // legend
  atom('legend-swatch-cu',158,112,28,'url(#cuF)');
  atom('legend-swatch-o',158,240,27,'url(#oG)');
  atom('legend-swatch-gd',158,372,28,'url(#gdG)');
  atom('legend-swatch-c',156,503,27,'url(#cG)');
  atom('legend-swatch-h',158,630,27,'url(#hG)');
})();
</script>
</body>
</html>
